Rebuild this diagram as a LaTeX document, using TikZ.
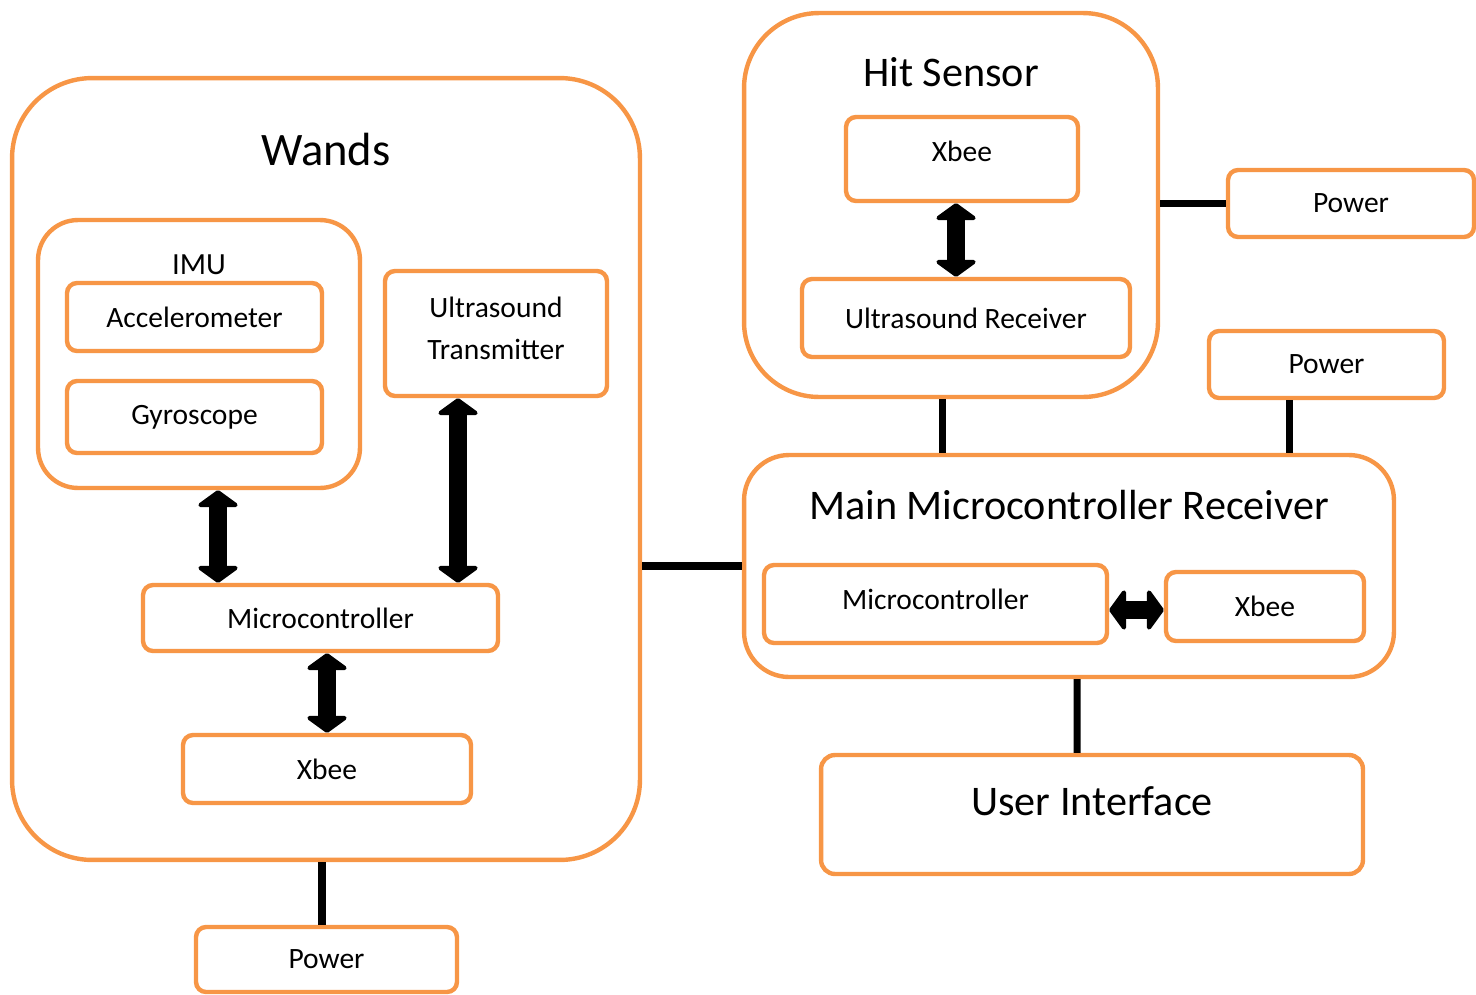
\documentclass[tikz,border=0pt]{standalone}
\usepackage{fontspec}
\setmainfont{Carlito}
\usetikzlibrary{arrows.meta}
\definecolor{boxorange}{HTML}{F79646}

\begin{document}
\begin{tikzpicture}[x=0.02cm,y=-0.02cm]
	\tikzstyle{group}=[draw=boxorange,line width=2.5pt,fill=white,inner sep=0pt]
	\tikzstyle{block}=[group,rounded corners=0.2cm,align=center,font=\fontsize{16.8}{23.8}\selectfont]
	\tikzstyle{title}=[font=\fontsize{24}{28}\selectfont]
	\tikzstyle{link}=[draw,black,line width=4pt]
	\tikzstyle{dual link}=[draw,black,line width=10pt,{Triangle[length=10pt,width=27pt,round]}-{Triangle[length=10pt,width=27pt,round]}]

	\useasboundingbox (0,0) rectangle (1476,994);

	% wand side
	\node[group,rounded corners=1.6cm,minimum width=12.56cm,minimum height=15.64cm] (wands) at (326,469) {};
	\node[title,font=\fontsize{26.5}{30}\selectfont] (wandstitle) at (326,150) {Wands};
	\node[group,rounded corners=0.8cm,minimum width=6.44cm,minimum height=5.36cm] (imu) at (199,354) {};
	\node[font=\fontsize{17.5}{20}\selectfont] (imutitle) at (199,265) {IMU};
	\node[block,minimum width=5.1cm,minimum height=1.36cm] (accel) at (194.5,317) {Accelerometer};
	\node[block,minimum width=5.1cm,minimum height=1.44cm] (gyro) at (194.5,417) {Gyroscope};
	\node[block,minimum width=4.44cm,minimum height=2.5cm] (ustx) at (496,333.5) {Ultrasound\\Transmitter\\[-0.64cm]};
	\node[block,minimum width=7.1cm,minimum height=1.32cm] (wmcu) at (320.5,618) {Microcontroller};
	\node[block,minimum width=5.76cm,minimum height=1.36cm] (wxbee) at (327,769) {Xbee};
	\node[block,minimum width=5.22cm,minimum height=1.3cm] (wpower) at (326.5,959.5) {Power};

	% hit sensor
	\node[group,rounded corners=1.5cm,minimum width=8.28cm,minimum height=7.68cm] (hit) at (951,205) {};
	\node[title] (hittitle) at (951,72) {Hit Sensor};
	\node[block,minimum width=4.64cm,minimum height=1.68cm,text depth=0.32cm] (hxbee) at (962,159) {Xbee};
	\node[block,minimum width=6.56cm,minimum height=1.56cm] (usrx) at (966,318) {Ultrasound Receiver};
	\node[block,minimum width=4.92cm,minimum height=1.34cm] (hpower) at (1351,203.5) {Power};
	\node[block,minimum width=4.7cm,minimum height=1.34cm] (mpower) at (1326.5,364.5) {Power};

	% main receiver
	\node[group,rounded corners=0.9cm,minimum width=13cm,minimum height=4.44cm] (main) at (1069,566) {};
	\node[title] (maintitle) at (1069,505) {Main Microcontroller Receiver};
	\node[block,minimum width=6.86cm,minimum height=1.56cm,text depth=0.2cm] (mmcu) at (935.5,604) {Microcontroller};
	\node[block,minimum width=3.96cm,minimum height=1.38cm] (mxbee) at (1265,606.5) {Xbee};
	\node[block,rounded corners=0.28cm,minimum width=10.84cm,minimum height=2.38cm] (ui) at (1092,814.5) {};
	\node[title] (uititle) at (1092,801) {User Interface};

	% connections
	\draw[dual link] ([xshift=0.38cm]imu.south) -- ([xshift=0.38cm]imu.south |- wmcu.north);
	\draw[dual link] ([xshift=-0.76cm]ustx.south) -- ([xshift=-0.76cm]ustx.south |- wmcu.north);
	\draw[dual link] (wxbee.north |- wmcu.south) -- (wxbee.north);
	\draw[dual link] ([xshift=-0.12cm]hxbee.south) -- ([xshift=-0.12cm]hxbee.south |- usrx.north);
	\draw[dual link] ([yshift=-0.12cm]mmcu.east) -- ([yshift=-0.12cm]mmcu.east -| mxbee.west);
	\draw[link] ([xshift=-0.08cm]wands.south) -- ([xshift=-0.08cm]wands.south |- wpower.north);
	\draw[link] (main.west -| wands.east) -- (main.west);
	\draw[link] (hit.east |- hpower.west) -- (hpower.west);
	\draw[link] ([xshift=-0.18cm]hit.south) -- ([xshift=-0.18cm]hit.south |- main.north);
	\draw[link] ([xshift=-0.75cm]mpower.south) -- ([xshift=-0.75cm]mpower.south |- main.north);
	\draw[link] ([xshift=0.16cm]main.south) -- ([xshift=-0.3cm]ui.north);
\end{tikzpicture}
\end{document}
